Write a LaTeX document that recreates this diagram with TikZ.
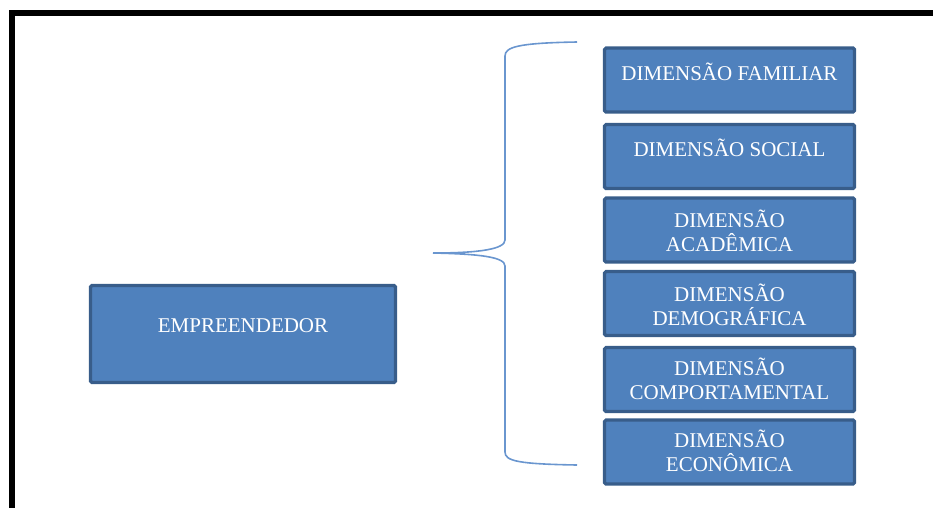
\documentclass[tikz,border=0pt]{standalone}
\usepackage{fontspec}
\setmainfont{Liberation Serif}
\definecolor{boxfill}{HTML}{4F81BD}
\definecolor{boxline}{HTML}{385D8A}
\definecolor{bracecol}{HTML}{6A96CF}
\begin{document}
\begin{tikzpicture}[x=1pt,y=-1pt,
  dimbox/.style={draw=boxline, line width=3.2pt, fill=boxfill, rounded corners=1.5pt,
    minimum width=250pt, minimum height=64pt, inner sep=0pt},
  lbl/.style={text=white, font=\fontsize{21}{24.5}\selectfont, align=center, inner sep=0pt, anchor=north},
  frame/.style={line width=6pt, line join=miter}
]
\useasboundingbox (0,0) rectangle (933,507);
% frame
\draw[frame] (12,510) -- (12,13) -- (936,13);
% entrepreneur box
\node[dimbox, minimum width=305pt, minimum height=97pt] (emp) at (243,334) {};
\node[lbl] (empt) at (243,318) {EMPREENDEDOR};
% dimension boxes
\node[dimbox] (fam) at (729.5,80) {};
\node[lbl] (famt) at (729.5,62.5) {DIMENSÃO FAMILIAR};
\node[dimbox] (soc) at (729.5,156.5) {};
\node[lbl] (soct) at (729.5,138.5) {DIMENSÃO SOCIAL};
\node[dimbox] (aca) at (729.5,230) {};
\node[lbl] (acat) at (729.5,209.5) {DIMENSÃO\\ACADÊMICA};
\node[dimbox] (dem) at (729.5,303.5) {};
\node[lbl] (demt) at (729.5,283.5) {DIMENSÃO\\DEMOGRÁFICA};
\node[dimbox] (com) at (729.5,379.5) {};
\node[lbl] (comt) at (729.5,357.5) {DIMENSÃO\\COMPORTAMENTAL};
\node[dimbox] (eco) at (729.5,452) {};
\node[lbl] (ecot) at (729.5,429.5) {DIMENSÃO\\ECONÔMICA};
% brace
\coordinate (btop) at (577,42);
\coordinate (btip) at (433,253);
\coordinate (bbot) at (577,465);
\draw[bracecol, line width=1.6pt]
  (btop) .. controls (518,43) and (505,47) .. (505,56)
  -- (505,240) .. controls (505,249) and (480,253) .. (btip)
  .. controls (480,254) and (505,257) .. (505,266)
  -- (505,452) .. controls (505,461) and (518,464) .. (bbot);
\end{tikzpicture}
\end{document}
